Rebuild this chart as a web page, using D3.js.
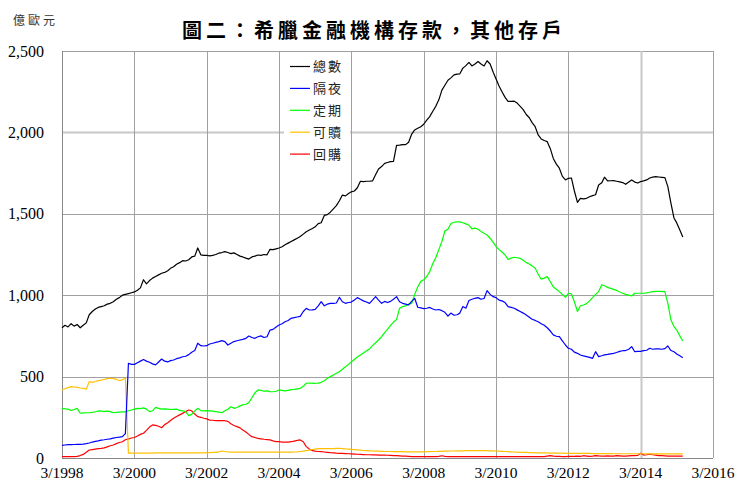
<!DOCTYPE html>
<html>
<head>
<meta charset="utf-8">
<script src="https://cdnjs.cloudflare.com/ajax/libs/d3/7.8.5/d3.min.js"></script>
<style>
  body { margin: 0; background: #fff; }
  svg { display: block; }
</style>
</head>
<body>
<script>
// 月資料：1998年3月起
var startYear = 1998, startMonth = 2;
var seriesNames = ["總數", "隔夜", "定期", "可贖", "回購"];
var seriesColors = ["#000000", "#0000ff", "#00ff00", "#ffc000", "#ff0000"];
var yTicks = [0, 500, 1000, 1500, 2000, 2500];
var xTickYears = [1998, 2000, 2002, 2004, 2006, 2008, 2010, 2012, 2014, 2016];

var total = [
  800, 815, 805, 825, 810, 820, 800, 815, 830, 880, 900, 915,
  925, 930, 935, 945, 950, 960, 975, 985, 1000, 1005, 1010, 1015,
  1020, 1030, 1045, 1095, 1070, 1090, 1105, 1115, 1125, 1135, 1140, 1150,
  1165, 1175, 1190, 1200, 1212, 1210, 1218, 1235, 1240, 1290, 1248, 1245,
  1245, 1242, 1245, 1250, 1258, 1262, 1268, 1262, 1255, 1260, 1250, 1240,
  1235, 1228, 1222, 1235, 1240, 1247, 1245, 1250, 1248, 1282, 1280, 1285,
  1290, 1298, 1310, 1320, 1330, 1340, 1350, 1360, 1375, 1390, 1400, 1410,
  1420, 1440, 1445, 1490, 1495, 1510, 1530, 1550, 1580, 1615, 1610, 1625,
  1635, 1640, 1660, 1700, 1698, 1700, 1700, 1702, 1740, 1775, 1790, 1810,
  1815, 1820, 1822, 1920, 1922, 1925, 1925, 1940, 1990, 2015, 2025, 2035,
  2050, 2075, 2097, 2130, 2160, 2200, 2260, 2290, 2320, 2335, 2353, 2358,
  2360, 2395, 2410, 2430, 2408, 2420, 2435, 2420, 2408, 2440, 2420, 2370,
  2330, 2285, 2250, 2215, 2190, 2190, 2192, 2180, 2160, 2140, 2110, 2090,
  2060, 2035, 1985, 1960, 1950, 1943, 1900, 1840, 1805, 1780, 1730, 1708,
  1718, 1720, 1640, 1570, 1595, 1592, 1595, 1605, 1612, 1617, 1677, 1690,
  1725, 1702, 1703, 1704, 1700, 1696, 1692, 1681, 1695, 1708, 1695, 1689,
  1698, 1702, 1708, 1720, 1725, 1728, 1726, 1724, 1722, 1667, 1566, 1474,
  1444, 1400, 1358
];
var overnight = [
  78, 80, 82, 82, 83, 84, 84, 85, 88, 92, 98, 102,
  105, 110, 112, 115, 118, 122, 126, 128, 131, 150, 582, 575,
  575, 585, 595, 605, 595, 588, 578, 572, 590, 608, 595, 590,
  598, 602, 610, 615, 622, 625, 635, 650, 660, 705, 690, 688,
  690, 700, 705, 710, 715, 721, 715, 694, 705, 715, 720, 725,
  729, 735, 749, 740, 735, 745, 750, 740, 745, 786, 790, 805,
  817, 825, 837, 845, 858, 862, 866, 870, 900, 919, 909, 910,
  913, 935, 960, 935, 945, 950, 950, 952, 987, 960, 950, 955,
  958, 970, 985, 975, 965, 958, 950, 970, 991, 970, 950, 962,
  955, 962, 975, 991, 960, 950, 945, 940, 962, 981, 926, 922,
  918, 920, 925, 915, 909, 912, 905, 895, 872, 890, 877, 880,
  890, 930, 920, 967, 975, 981, 985, 975, 980, 1028, 1005, 991,
  985, 970, 965, 955, 930, 925, 920, 910, 900, 890, 878, 865,
  852, 845, 837, 825, 815, 800, 780, 756, 748, 745, 720, 694,
  674, 668, 650, 643, 633, 627, 623, 618, 612, 653, 623, 628,
  633, 636, 640, 643, 648, 655, 659, 660, 668, 684, 653, 655,
  655, 660, 662, 674, 668, 670, 670, 668, 672, 688, 660, 653,
  639, 628, 616
];
var term = [
  305, 302, 300, 292, 298, 305, 275, 277, 278, 278, 280, 284,
  289, 288, 286, 288, 285, 278, 280, 282, 284, 283, 290, 295,
  300, 305, 303, 308, 300, 285, 290, 311, 305, 300, 302, 300,
  298, 299, 300, 292, 290, 285, 260, 268, 290, 305, 291, 290,
  291, 290, 288, 285, 282, 278, 290, 300, 315, 305, 310, 320,
  326, 330, 340, 370, 400, 418, 415, 410, 412, 408, 407, 410,
  418, 415, 412, 415, 420, 422, 425, 428, 440, 459, 460, 459,
  459, 460, 465, 475, 489, 500, 510, 520, 530, 545, 560, 575,
  590, 605, 620, 633, 645, 658, 670, 690, 708, 725, 745, 770,
  790, 815, 835, 850, 919, 930, 934, 945, 950, 1005, 1050, 1085,
  1095, 1115, 1145, 1195, 1230, 1280, 1330, 1395, 1405, 1440, 1448, 1450,
  1450, 1445, 1438, 1430, 1407, 1412, 1405, 1392, 1380, 1370, 1350, 1325,
  1300, 1280, 1265, 1247, 1220, 1228, 1233, 1230, 1226, 1215, 1200, 1192,
  1180, 1165, 1130, 1098, 1105, 1114, 1083, 1050, 1036, 1022, 1005, 987,
  1012, 1008, 960, 900, 935, 940, 948, 965, 985, 1005, 1022, 1063,
  1058, 1048, 1042, 1036, 1030, 1020, 1012, 1005, 1000, 995, 1012, 1012,
  1012, 1012, 1014, 1018, 1022, 1024, 1024, 1024, 1022, 950, 848, 807,
  786, 750, 719
];
var redeemable = [
  418, 425, 432, 438, 436, 434, 430, 428, 422, 469, 465, 470,
  475, 478, 482, 488, 490, 488, 484, 475, 480, 492, 30, 30,
  30, 30, 30, 30, 30, 30, 30, 31, 31, 31, 31, 31,
  32, 32, 32, 32, 32, 32, 32, 32, 32, 32, 32, 32,
  33, 33, 34, 35, 38, 43, 40, 37, 36, 36, 36, 36,
  36, 36, 36, 36, 36, 36, 36, 36, 36, 36, 36, 36,
  36, 36, 36, 36, 36, 37, 38, 40, 42, 45, 48, 52,
  55, 57, 58, 58, 58, 58, 58, 59, 60, 58, 56, 55,
  53, 52, 50, 48, 46, 45, 44, 43, 42, 42, 41, 40,
  40, 40, 39, 39, 39, 39, 38, 38, 38, 38, 38, 38,
  38, 39, 39, 40, 40, 41, 41, 42, 42, 43, 43, 44,
  44, 44, 45, 45, 45, 45, 45, 45, 45, 45, 44, 44,
  43, 42, 41, 40, 39, 38, 37, 36, 35, 34, 34, 33,
  33, 32, 32, 31, 31, 31, 30, 30, 30, 30, 30, 29,
  29, 29, 28, 28, 28, 28, 28, 28, 27, 27, 27, 27,
  27, 27, 27, 26, 26, 26, 26, 26, 26, 26, 26, 26,
  26, 26, 25, 25, 25, 25, 25, 25, 25, 25, 25, 25,
  25, 25, 25
];
var repo = [
  8, 8, 8, 8, 8, 10, 15, 22, 35, 49, 52, 55,
  57, 59, 62, 68, 75, 80, 88, 95, 100, 112, 117, 123,
  126, 135, 145, 152, 170, 190, 203, 200, 195, 186, 205, 217,
  230, 244, 255, 265, 274, 285, 295, 290, 270, 254, 250, 244,
  240, 233, 232, 230, 229, 229, 229, 225, 210, 200, 193, 185,
  172, 160, 145, 131, 126, 121, 118, 115, 113, 111, 105, 100,
  100, 98, 97, 98, 100, 104, 108, 111, 100, 70, 55, 45,
  42, 40, 39, 37, 35, 33, 32, 30, 29, 28, 27, 26,
  25, 24, 23, 22, 21, 20, 20, 19, 19, 18, 18, 18,
  17, 16, 15, 14, 13, 12, 11, 10, 9, 9, 8, 8,
  8, 8, 8, 8, 8, 10, 14, 10, 9, 9, 9, 9,
  9, 9, 9, 9, 9, 9, 9, 9, 9, 9, 9, 9,
  9, 9, 9, 9, 9, 9, 9, 9, 9, 9, 9, 9,
  9, 9, 9, 9, 9, 12, 15, 12, 10, 10, 9, 9,
  10, 10, 10, 12, 10, 14, 12, 10, 12, 15, 13, 12,
  12, 13, 12, 12, 14, 13, 12, 12, 13, 14, 15, 16,
  29, 18, 20, 24, 20, 18, 15, 14, 13, 12, 12, 12,
  11, 11, 11
];
var seriesValues = [total, overnight, term, redeemable, repo];

var width = 739, height = 482;
var margin = { top: 51, right: 26, bottom: 24, left: 62 };
var innerW = width - margin.left - margin.right;
var innerH = height - margin.top - margin.bottom;

var svg = d3.select("body").append("svg")
    .attr("width", width)
    .attr("height", height);

var xScale = d3.scaleTime()
    .domain([new Date(1998, 2, 1), new Date(2016, 2, 1)])
    .range([margin.left, margin.left + innerW]);
var yScale = d3.scaleLinear()
    .domain([0, 2500])
    .range([margin.top + innerH, margin.top]);

var xTicks = xTickYears.map(function (y) { return new Date(y, 2, 1); });

// 格線
svg.append("g").selectAll("line")
    .data(yTicks.filter(function (d) { return d > 0; }))
    .enter().append("line")
    .attr("x1", margin.left).attr("x2", margin.left + innerW)
    .attr("y1", function (d) { return Math.round(yScale(d)) + 0.5; })
    .attr("y2", function (d) { return Math.round(yScale(d)) + 0.5; })
    .attr("stroke", function (d) { return d === 2000 ? "#c8c8c8" : "#a0a0a0"; })
    .attr("stroke-width", function (d) { return d === 2000 ? 2 : 1; });

svg.append("g").selectAll("line")
    .data(xTicks.slice(1))
    .enter().append("line")
    .attr("x1", function (d) { return Math.round(xScale(d)) + 0.5; })
    .attr("x2", function (d) { return Math.round(xScale(d)) + 0.5; })
    .attr("y1", margin.top).attr("y2", margin.top + innerH)
    .attr("stroke", function (d) { return d.getFullYear() === 2014 ? "#c8c8c8" : "#a0a0a0"; })
    .attr("stroke-width", function (d) { return d.getFullYear() === 2014 ? 2 : 1; });

// 軸線
svg.append("line")
    .attr("x1", margin.left + 0.5).attr("x2", margin.left + 0.5)
    .attr("y1", margin.top).attr("y2", margin.top + innerH)
    .attr("stroke", "#888");
svg.append("line")
    .attr("x1", margin.left).attr("x2", margin.left + innerW)
    .attr("y1", margin.top + innerH + 0.5).attr("y2", margin.top + innerH + 0.5)
    .attr("stroke", "#888");

// 刻度文字
var fmt = d3.format(",");
svg.append("g").selectAll("text")
    .data(yTicks)
    .enter().append("text")
    .attr("x", 44)
    .attr("y", function (d) { return yScale(d); })
    .attr("dy", "0.35em")
    .attr("text-anchor", "end")
    .attr("font-family", "'Liberation Serif', 'Times New Roman', serif")
    .attr("font-size", 16)
    .text(function (d) { return fmt(d); });

svg.append("g").selectAll("text")
    .data(xTicks)
    .enter().append("text")
    .attr("x", function (d) { return xScale(d); })
    .attr("y", 478)
    .attr("text-anchor", "middle")
    .attr("font-family", "'Liberation Serif', 'Times New Roman', serif")
    .attr("font-size", 15.5)
    .text(function (d) { return "3/" + d.getFullYear(); });

// 線
var line = d3.line()
    .x(function (d, i) { return xScale(new Date(startYear, startMonth + i, 1)); })
    .y(function (d) { return yScale(d); });

// 畫的順序：回購、可贖、定期、隔夜、總數
[4, 3, 2, 1, 0].forEach(function (k) {
    svg.append("path")
        .datum(seriesValues[k])
        .attr("fill", "none")
        .attr("stroke", seriesColors[k])
        .attr("stroke-width", 1.2)
        .attr("stroke-linejoin", "round")
        .attr("d", line);
});

// 圖例
var legend = svg.append("g");
legend.append("rect")
    .attr("x", 284).attr("y", 55)
    .attr("width", 66).attr("height", 112)
    .attr("fill", "#fff");
var rows = legend.selectAll("g")
    .data(seriesNames)
    .enter().append("g")
    .attr("transform", function (d, i) { return "translate(0," + (66 + i * 21.9) + ")"; });
rows.append("line")
    .attr("x1", 290).attr("x2", 310)
    .attr("y1", 0.5).attr("y2", 0.5)
    .attr("stroke", function (d, i) { return seriesColors[i]; })
    .attr("stroke-width", 1.2);
rows.append("text")
    .attr("x", 313)
    .attr("y", 0)
    .attr("dy", "0.38em")
    .attr("font-family", "'Noto Sans CJK TC', sans-serif")
    .attr("font-size", 13)
    .attr("letter-spacing", 2)
    .attr("fill", "#222")
    .text(function (d) { return d; });

// 標題
svg.append("text")
    .attr("x", 374)
    .attr("y", 38)
    .attr("text-anchor", "middle")
    .attr("font-family", "'Noto Sans CJK TC', sans-serif")
    .attr("font-weight", "bold")
    .attr("font-size", 20)
    .attr("letter-spacing", 4)
    .text("圖二：希臘金融機構存款，其他存戶");

svg.append("text")
    .attr("x", 13)
    .attr("y", 25)
    .attr("font-family", "'Noto Sans CJK TC', sans-serif")
    .attr("font-size", 12)
    .attr("letter-spacing", 3)
    .attr("fill", "#333")
    .text("億歐元");
</script>
</body>
</html>
